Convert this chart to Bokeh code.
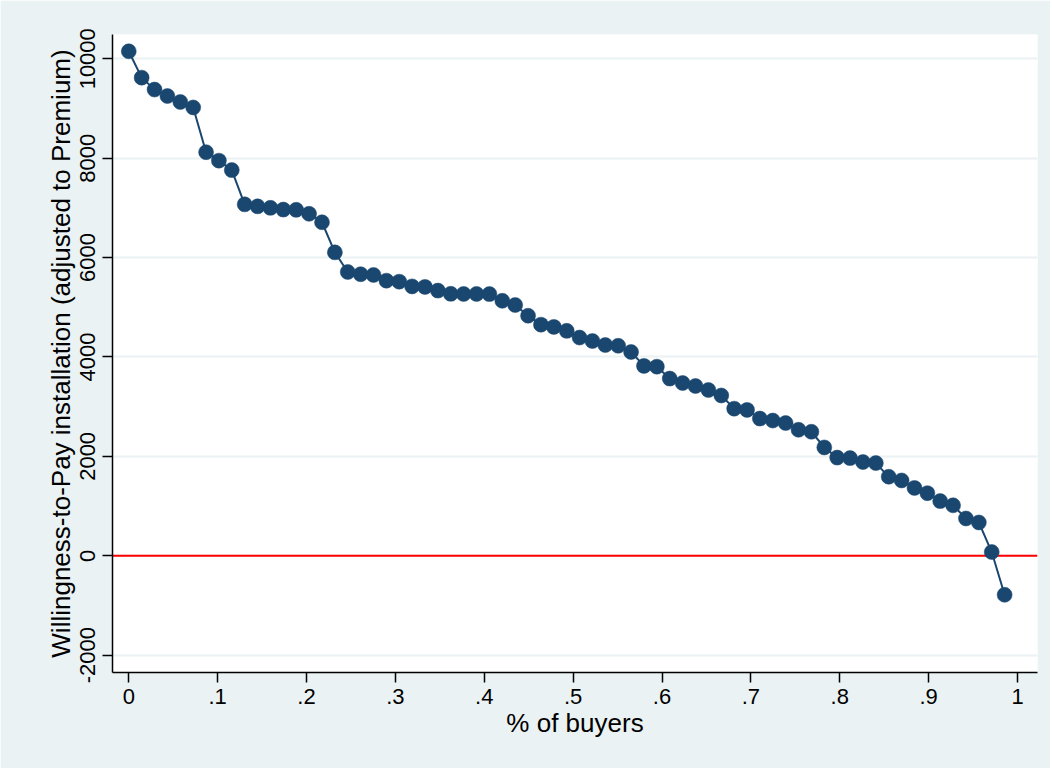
from bokeh.plotting import figure
from bokeh.models import Range1d, FixedTicker, Span, ColumnDataSource
from bokeh.embed import file_html
from bokeh.resources import INLINE

# share of buyers (rank / N)
share_buyers = [0.0, .0145, .0290, .0435, .0580, .0725, .0870, .1014, .1159, .1304,
                .1449, .1594, .1739, .1884, .2029, .2174, .2319, .2464, .2609, .2754,
                .2899, .3043, .3188, .3333, .3478, .3623, .3768, .3913, .4058, .4203,
                .4348, .4493, .4638, .4783, .4928, .5072, .5217, .5362, .5507, .5652,
                .5797, .5942, .6087, .6232, .6377, .6522, .6667, .6812, .6957, .7101,
                .7246, .7391, .7536, .7681, .7826, .7971, .8116, .8261, .8406, .8551,
                .8696, .8841, .8986, .9130, .9275, .9420, .9565, .9710, .9855]

# willingness-to-pay for installation (adjusted to Premium)
wtp = [10150, 9620, 9380, 9250, 9130, 9020, 8120, 7950, 7760, 7070,
       7030, 7000, 6965, 6960, 6880, 6710, 6105, 5710, 5665, 5650,
       5535, 5515, 5420, 5410, 5335, 5270, 5268, 5268, 5265, 5130,
       5045, 4830, 4650, 4605, 4525, 4390, 4320, 4240, 4225, 4100,
       3820, 3805, 3565, 3475, 3415, 3335, 3225, 2960, 2935, 2760,
       2720, 2670, 2535, 2495, 2180, 1975, 1965, 1885, 1865, 1590,
       1515, 1365, 1260, 1100, 1015, 750, 670, 75, -785]

x_ticks = [0, 0.1, 0.2, 0.3, 0.4, 0.5, 0.6, 0.7, 0.8, 0.9, 1.0]
x_tick_labels = ["0", ".1", ".2", ".3", ".4", ".5", ".6", ".7", ".8", ".9", "1"]
y_ticks = [-2000, 0, 2000, 4000, 6000, 8000, 10000]
y_tick_labels = ["-2000", "0", "2000", "4000", "6000", "8000", "10000"]

FONT = "Liberation Sans"
BG = "#EAF2F3"
NAVY = "#1A476F"

p = figure(width=1050, height=768, output_backend="svg", toolbar_location=None,
           x_range=Range1d(-0.0183, 1.0225), y_range=Range1d(-2349, 10488),
           min_border_left=112, min_border_top=34, min_border_bottom=96,
           min_border_right=13)
p.border_fill_color = BG
p.background_fill_color = "white"
p.outline_line_color = None

src = ColumnDataSource(dict(x=share_buyers, y=wtp))

zero = Span(location=0, dimension="width", line_color="#FF0000", line_width=2,
            level="underlay")
p.add_layout(zero)

p.line("x", "y", source=src, line_color=NAVY, line_width=2)
p.scatter("x", "y", source=src, size=15, fill_color=NAVY, line_color=NAVY,
          line_width=0.5)

# x axis
xa = p.xaxis[0]
xa.ticker = FixedTicker(ticks=x_ticks)
xa.major_label_overrides = {t: l for t, l in zip(x_ticks, x_tick_labels)}
xa.axis_label = "% of buyers"
# y axis
ya = p.yaxis[0]
ya.ticker = FixedTicker(ticks=y_ticks)
ya.major_label_overrides = {t: l for t, l in zip(y_ticks, y_tick_labels)}
ya.axis_label = "Willingness-to-Pay installation (adjusted to Premium)"
ya.major_label_orientation = "vertical"

for ax in (xa, ya):
    ax.axis_line_color = "black"
    ax.axis_line_width = 1.5
    ax.major_tick_line_color = "black"
    ax.major_tick_line_width = 1.5
    ax.major_tick_out = 10
    ax.major_tick_in = 0
    ax.minor_tick_line_color = None
    ax.major_label_text_font = FONT
    ax.major_label_text_font_size = "22px"
    ax.major_label_text_color = "black"
    ax.axis_label_text_font = FONT
    ax.axis_label_text_font_size = "26px"
    ax.axis_label_text_font_style = "normal"
    ax.axis_label_text_color = "black"

xa.major_label_standoff = 6
xa.axis_label_standoff = 1
ya.major_label_standoff = 7
ya.axis_label_standoff = 2

p.xgrid.grid_line_color = None
p.ygrid.ticker = FixedTicker(ticks=y_ticks)
p.ygrid.grid_line_color = BG
p.ygrid.grid_line_width = 2

open("out.html", "w").write(file_html(p, INLINE))
